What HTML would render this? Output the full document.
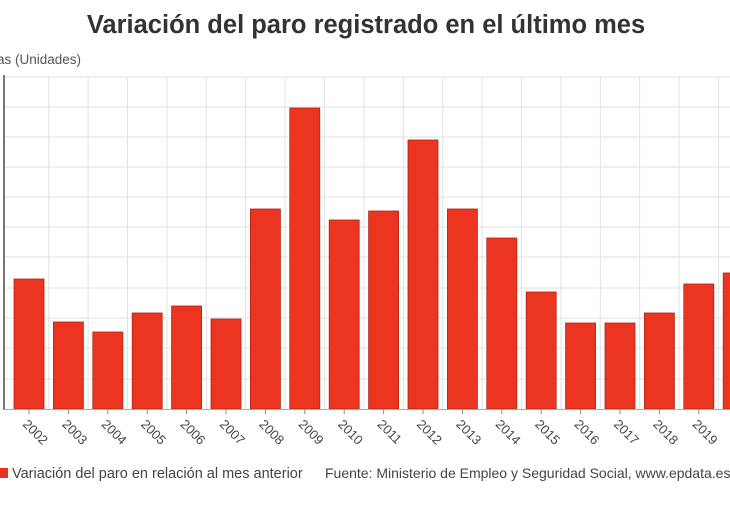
<!DOCTYPE html>
<html><head><meta charset="utf-8"><style>
body{margin:0;width:730px;height:500px;background:#fff;overflow:hidden;font-family:"Liberation Sans","DejaVu Sans",sans-serif}
</style></head><body>
<svg width="730" height="500" xmlns="http://www.w3.org/2000/svg">
<text x="366" y="33" text-anchor="middle" font-size="25.5" font-weight="bold" fill="#333">Variación del paro registrado en el último mes</text>
<text x="-3" y="64" font-size="13.5" fill="#555">as (Unidades)</text>
<g stroke="#e2e2e2" stroke-width="1">
<line x1="4" y1="77" x2="730" y2="77"/><line x1="4" y1="107" x2="730" y2="107"/><line x1="4" y1="137" x2="730" y2="137"/><line x1="4" y1="167" x2="730" y2="167"/><line x1="4" y1="197" x2="730" y2="197"/><line x1="4" y1="227" x2="730" y2="227"/><line x1="4" y1="257" x2="730" y2="257"/><line x1="4" y1="288" x2="730" y2="288"/><line x1="4" y1="318" x2="730" y2="318"/><line x1="4" y1="348" x2="730" y2="348"/><line x1="4" y1="379" x2="730" y2="379"/>
</g>
<g stroke="#e2e2e2" stroke-width="1" id="vg"></g>
<g id="bars"></g>
<line x1="4" y1="75" x2="4" y2="410" stroke="#777" stroke-width="2"/>
<line x1="4" y1="409.5" x2="730" y2="409.5" stroke="#aaa" stroke-width="1"/>
<g id="lbl" font-size="13" fill="#444"></g>
<rect x="-2" y="468" width="10" height="10" fill="#e8321f"/>
<text x="12" y="478" font-size="14.5" fill="#444">Variación del paro en relación al mes anterior</text>
<text x="325" y="478" font-size="14" fill="#444">Fuente: Ministerio de Empleo y Seguridad Social, www.epdata.es</text>
</svg>
<script>
var tops=[279,322,332,313,306,319,209,108,220,211,140,209,238,292,323,323,313,284,273];
var ns="http://www.w3.org/2000/svg",b=document.getElementById("bars"),l=document.getElementById("lbl"),v=document.getElementById("vg");
for(var i=0;i<tops.length;i++){
 var c=29+39.4*i;
 var r=document.createElementNS(ns,"rect");
 r.setAttribute("x",c-15);r.setAttribute("y",tops[i]);r.setAttribute("width",30);r.setAttribute("height",409-tops[i]);
 r.setAttribute("fill","#ec3520");r.setAttribute("stroke","#b02414");r.setAttribute("stroke-width","0.8");b.appendChild(r);
 var g=document.createElementNS(ns,"line");g.setAttribute("x1",c+19.7);g.setAttribute("x2",c+19.7);g.setAttribute("y1",77);g.setAttribute("y2",409);v.appendChild(g);
 var t=document.createElementNS(ns,"line");t.setAttribute("x1",c);t.setAttribute("x2",c);t.setAttribute("y1",409);t.setAttribute("y2",414);t.setAttribute("stroke","#888");l.appendChild(t);
 if(i<18){var x=document.createElementNS(ns,"text");x.setAttribute("transform","translate("+(c-7)+",425) rotate(45)");x.textContent=2002+i;l.appendChild(x);}
}
</script>
</body></html>
